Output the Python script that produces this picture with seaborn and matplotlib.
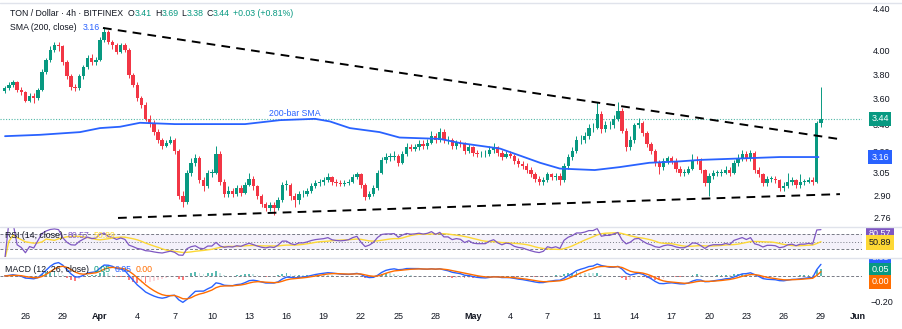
import numpy as np
import pandas as pd
import matplotlib
matplotlib.use("Agg")
import matplotlib.pyplot as plt
import matplotlib.ticker as mticker
import matplotlib.transforms as mtransforms
from matplotlib.lines import Line2D
import seaborn as sns

sns.set_theme(style="white")
plt.rcParams['font.family'] = ['Liberation Sans', 'DejaVu Sans']

# ---------------- data (8h bars) ----------------
first_open = 3.66
start_day = -7.667          # days relative to Apr 1 00:00
bar_hours = 8

closes = [
    3.68, 3.71, 3.73, 3.67, 3.65, 3.58, 3.62, 3.60, 3.67, 3.82, 3.92, 4.01,
    4.05, 4.04, 3.90, 3.78, 3.69, 3.68, 3.78, 3.86, 3.94, 3.90, 3.92, 4.10,
    4.17, 4.08, 4.05, 3.99, 4.05, 4.01, 3.79, 3.71, 3.60, 3.55, 3.44, 3.41,
    3.34, 3.28, 3.24, 3.26, 3.28, 3.20, 2.90, 2.86, 3.05, 3.12, 3.15, 3.00,
    2.96, 3.05, 3.05, 3.18, 2.99, 2.91, 2.93, 2.91, 2.95, 2.92, 2.97, 3.01,
    2.96, 2.90, 2.85, 2.82, 2.84, 2.82, 2.87, 2.97, 2.97, 2.90, 2.87, 2.91,
    2.91, 2.93, 2.96, 2.98, 2.99, 3.00, 3.02, 2.99, 2.98, 2.975, 2.98, 2.99,
    3.02, 3.04, 2.97, 2.89, 2.91, 2.95, 3.05, 3.14, 3.16, 3.16, 3.17, 3.12,
    3.18, 3.23, 3.22, 3.23, 3.25, 3.24, 3.26, 3.31, 3.28, 3.34, 3.28, 3.28,
    3.24, 3.26, 3.25, 3.20, 3.23, 3.19, 3.18, 3.18, 3.18, 3.21, 3.23, 3.19,
    3.16, 3.18, 3.17, 3.13, 3.11, 3.10, 3.07, 3.04, 3.01, 2.99, 3.00, 3.04,
    3.02, 3.03, 3.00, 3.10, 3.16, 3.20, 3.28, 3.28, 3.31, 3.37, 3.37, 3.48,
    3.36, 3.39, 3.39, 3.44, 3.50, 3.35, 3.23, 3.28, 3.39, 3.41, 3.33, 3.25,
    3.20, 3.12, 3.09, 3.13, 3.15, 3.13, 3.08, 3.05, 3.05, 3.08, 3.14, 3.13,
    3.07, 2.98, 3.03, 3.05, 3.05, 3.05, 3.07, 3.05, 3.12, 3.15, 3.18, 3.15,
    3.19, 3.07, 3.04, 2.98, 3.01, 3.01, 3.00, 2.95, 2.96, 2.99, 3.00, 2.97,
    2.99, 2.99, 3.00, 2.99, 3.41, 3.44]

highs = [
    3.70, 3.73, 3.75, 3.74, 3.69, 3.66, 3.64, 3.64, 3.68, 3.84, 3.94, 4.04,
    4.08, 4.08, 4.05, 3.92, 3.80, 3.72, 3.80, 3.88, 3.96, 3.97, 3.95, 4.13,
    4.22, 4.19, 4.10, 4.07, 4.07, 4.07, 4.03, 3.81, 3.73, 3.62, 3.57, 3.47,
    3.43, 3.36, 3.30, 3.28, 3.31, 3.30, 3.22, 2.93, 3.07, 3.15, 3.18, 3.17,
    3.02, 3.07, 3.08, 3.24, 3.20, 3.01, 2.96, 2.95, 2.97, 2.97, 2.99, 3.05,
    3.03, 2.97, 2.91, 2.86, 2.86, 2.86, 2.89, 2.99, 3.00, 2.98, 2.92, 2.93,
    2.94, 2.95, 2.98, 3.00, 3.01, 3.02, 3.05, 3.03, 3.01, 3.00, 3.00, 3.01,
    3.04, 3.06, 3.05, 2.98, 2.93, 2.97, 3.07, 3.16, 3.19, 3.19, 3.20, 3.18,
    3.20, 3.26, 3.25, 3.25, 3.28, 3.28, 3.29, 3.35, 3.33, 3.37, 3.36, 3.31,
    3.30, 3.28, 3.28, 3.27, 3.25, 3.24, 3.21, 3.20, 3.21, 3.24, 3.26, 3.24,
    3.21, 3.20, 3.20, 3.18, 3.15, 3.13, 3.12, 3.09, 3.06, 3.03, 3.02, 3.06,
    3.05, 3.05, 3.05, 3.12, 3.18, 3.23, 3.31, 3.32, 3.34, 3.40, 3.41, 3.57,
    3.50, 3.42, 3.42, 3.47, 3.57, 3.52, 3.37, 3.31, 3.41, 3.45, 3.42, 3.35,
    3.27, 3.22, 3.14, 3.15, 3.17, 3.17, 3.15, 3.10, 3.08, 3.10, 3.18, 3.17,
    3.15, 3.08, 3.05, 3.07, 3.07, 3.08, 3.10, 3.09, 3.14, 3.18, 3.21, 3.20,
    3.21, 3.20, 3.09, 3.05, 3.03, 3.03, 3.03, 3.01, 2.99, 3.05, 3.02, 3.01,
    3.04, 3.01, 3.02, 3.02, 3.42, 3.69]

lows = [
    3.64, 3.67, 3.69, 3.65, 3.63, 3.57, 3.57, 3.56, 3.59, 3.66, 3.80, 3.90,
    3.99, 4.00, 3.88, 3.76, 3.67, 3.66, 3.67, 3.76, 3.84, 3.88, 3.88, 3.91,
    4.08, 4.06, 4.02, 3.97, 3.98, 3.99, 3.77, 3.69, 3.58, 3.52, 3.42, 3.38,
    3.32, 3.26, 3.22, 3.23, 3.25, 3.18, 2.88, 2.83, 2.85, 3.03, 3.10, 2.98,
    2.93, 2.95, 3.02, 3.04, 2.97, 2.89, 2.89, 2.89, 2.90, 2.90, 2.91, 2.96,
    2.94, 2.88, 2.83, 2.80, 2.80, 2.78, 2.81, 2.86, 2.94, 2.87, 2.83, 2.85,
    2.89, 2.90, 2.92, 2.95, 2.96, 2.97, 2.99, 2.97, 2.96, 2.96, 2.96, 2.97,
    2.98, 3.01, 2.95, 2.87, 2.88, 2.90, 2.94, 3.04, 3.12, 3.13, 3.14, 3.10,
    3.11, 3.17, 3.20, 3.20, 3.21, 3.22, 3.22, 3.25, 3.26, 3.27, 3.26, 3.25,
    3.22, 3.22, 3.23, 3.18, 3.19, 3.17, 3.16, 3.16, 3.16, 3.17, 3.19, 3.17,
    3.14, 3.15, 3.15, 3.11, 3.09, 3.08, 3.05, 3.02, 2.99, 2.97, 2.97, 2.99,
    3.00, 3.00, 2.97, 2.99, 3.08, 3.14, 3.19, 3.25, 3.26, 3.29, 3.34, 3.36,
    3.33, 3.34, 3.36, 3.37, 3.42, 3.33, 3.20, 3.21, 3.26, 3.37, 3.31, 3.23,
    3.18, 3.10, 3.04, 3.07, 3.11, 3.11, 3.06, 3.03, 3.03, 3.04, 3.07, 3.11,
    3.05, 2.96, 2.90, 3.01, 3.03, 3.03, 3.04, 3.03, 3.04, 3.10, 3.13, 3.13,
    3.13, 3.05, 3.02, 2.96, 2.96, 2.99, 2.98, 2.93, 2.93, 2.95, 2.97, 2.95,
    2.95, 2.97, 2.98, 2.97, 2.98, 3.38]

# 200-bar SMA (day offset from Apr 1, value)
sma_day = [-7.64, -4.83, -1.61, 0.0, 1.61, 3.22, 6.03, 8.85, 11.67, 14.48, 17.3,
           18.5, 20.1, 22.5, 24.1, 27.35, 28.96, 30.57, 32.18, 33.79, 35.4, 37.0,
           39.8, 41.8, 44.2, 46.7, 48.3, 51.5, 54.7, 57.8]
sma_val = [3.31, 3.32, 3.34, 3.37, 3.38, 3.41, 3.40, 3.40, 3.40, 3.43, 3.44,
           3.42, 3.37, 3.34, 3.30, 3.29, 3.26, 3.24, 3.22, 3.17, 3.12, 3.08,
           3.07, 3.09, 3.12, 3.13, 3.14, 3.15, 3.16, 3.16]

# trend lines (day offset, price)
upper_trend_day = [0.24, 59.37]
upper_trend_price = [4.21, 3.29]
lower_trend_day = [1.45, 59.53]
lower_trend_price = [2.76, 2.91]

last_close = 3.44
last_sma = 3.16

price_ticks = [4.40, 4.00, 3.80, 3.60, 3.40, 3.20, 3.05, 2.90, 2.76]
date_tick_days = [-6, -3, 0, 3, 6, 9, 12, 15, 18, 21, 24, 27, 30, 33, 36, 40,
                  43, 46, 49, 52, 55, 58, 61]
date_tick_labels = ["26", "29", "Apr", "4", "7", "10", "13", "16", "19", "22",
                    "25", "28", "May", "4", "7", "11", "14", "17", "20", "23",
                    "26", "29", "Jun"]

# ---------------- derived ----------------
n = len(closes)
assert len(highs) == n and len(lows) == n
t = start_day + np.arange(n) * bar_hours / 24.0
c = np.array(closes)
o = np.concatenate([[first_open], c[:-1]])
h = np.maximum(np.array(highs), np.maximum(o, c))
l = np.minimum(np.array(lows), np.minimum(o, c))
up = c >= o

s = pd.Series(c)
d = s.diff().fillna(0)
rs_n = 10
ru = d.clip(lower=0).ewm(alpha=1 / rs_n, adjust=False).mean()
rd = (-d.clip(upper=0)).ewm(alpha=1 / rs_n, adjust=False).mean()
rsi = 100 - 100 / (1 + ru / rd.replace(0, 1e-9))
rsi_ma = rsi.rolling(10, min_periods=1).mean()

macd = s.ewm(span=6, adjust=False).mean() - s.ewm(span=13, adjust=False).mean()
signal = macd.ewm(span=5, adjust=False).mean()
hist = (macd - signal).values

# ---------------- figure ----------------
W, H = 903, 329
fig = plt.figure(figsize=(W / 100, H / 100), dpi=100)
fig.patch.set_facecolor('white')


def fr(x0, y0, x1, y1):
    return [x0 / W, 1 - y1 / H, (x1 - x0) / W, (y1 - y0) / H]


def px2day(x):
    return (x - 100) / 12.43


ax = fig.add_axes(fr(0, 3, 862, 226))
ax_rsi = fig.add_axes(fr(0, 227, 862, 257), sharex=ax)
ax_macd = fig.add_axes(fr(0, 258, 862, 306), sharex=ax)

UP, DN = '#089981', '#f23645'
DARK = '#131722'
TICK = '#131722'

# candles
colors = np.where(up, UP, DN)
ax.vlines(t, l, h, colors=colors, linewidth=0.7, zorder=3)
body_lo = np.minimum(o, c)
body_h = np.maximum(np.abs(c - o), 0.004)
ax.bar(t, body_h, bottom=body_lo, width=0.27, color=colors, linewidth=0, zorder=4)

sns.lineplot(x=sma_day, y=sma_val, ax=ax, color='#2962ff', linewidth=1.3, sort=False, zorder=5)
ax.plot(upper_trend_day, upper_trend_price, color='black', linewidth=1.4,
        linestyle=(0, (4.5, 3.2)), zorder=6)
ax.plot(lower_trend_day, lower_trend_price, color='black', linewidth=1.4,
        linestyle=(0, (4.5, 3.2)), zorder=6)
ax.axhline(last_close, color=UP, linestyle=(0, (1, 1.5)), linewidth=0.8, alpha=0.7, zorder=2)
ax.text(px2day(295), 3.478, "200-bar SMA", color='#2962ff', fontsize=6.3,
        ha='center', va='center', zorder=7)

ax.set_yscale('log')
ax.set_ylim(2.711, 4.45)
ax.set_xlim(px2day(0), px2day(862))
ax.yaxis.tick_right()
ax.yaxis.set_major_locator(mticker.FixedLocator(price_ticks))
ax.yaxis.set_major_formatter(mticker.FixedFormatter([f"{v:.2f}" for v in price_ticks]))
ax.yaxis.set_minor_locator(mticker.NullLocator())
ax.yaxis.set_minor_formatter(mticker.NullFormatter())
ax.tick_params(axis='y', which='both', length=0, pad=8, labelsize=6.5, labelcolor=TICK)
ax.tick_params(axis='x', length=0, labelbottom=False)
ax.set_xlabel('')
ax.set_ylabel('')

# RSI
ax_rsi.axhspan(30, 70, color='#7e57c2', alpha=0.08, lw=0)
for lv, ls in ((70, (0, (3, 2))), (50, (0, (1, 2))), (30, (0, (3, 2)))):
    ax_rsi.axhline(lv, color='#787b86', linewidth=0.7, linestyle=ls)
sns.lineplot(x=t, y=rsi_ma.values, ax=ax_rsi, color='#fdd835', linewidth=1.0, sort=False)
sns.lineplot(x=t, y=rsi.values, ax=ax_rsi, color='#7e57c2', linewidth=0.9, sort=False)
ax_rsi.set_ylim(8.7, 88.7)
ax_rsi.set_yticks([])
ax_rsi.tick_params(axis='x', length=0, labelbottom=False)
ax_rsi.set_xlabel('')
ax_rsi.set_ylabel('')

# MACD
prev = np.concatenate([[0], hist[:-1]])
hcol = np.where(hist >= 0, np.where(hist >= prev, '#26a69a', '#b2dfdb'),
                np.where(hist <= prev, '#ff5252', '#ffcdd2'))
ax_macd.bar(t, hist, width=0.14, color=hcol, linewidth=0, alpha=0.75)
ax_macd.axhline(0, color='#787b86', linewidth=0.7, linestyle=(0, (3, 2)))
sns.lineplot(x=t, y=macd.values, ax=ax_macd, color='#2962ff', linewidth=1.0, sort=False)
sns.lineplot(x=t, y=signal.values, ax=ax_macd, color='#ff6d00', linewidth=1.0, sort=False)
ax_macd.set_ylim(-0.231, 0.138)
ax_macd.yaxis.tick_right()
ax_macd.set_yticks([-0.2])
ax_macd.set_yticklabels(["\u22120.20"])
ax_macd.tick_params(axis='y', length=0, pad=6, labelsize=6.5, labelcolor=TICK)
ax_macd.set_xticks(date_tick_days)
ax_macd.set_xticklabels(date_tick_labels)
ax_macd.tick_params(axis='x', length=0, pad=4, labelsize=6.5, labelcolor=TICK)
for lab in ax_macd.get_xticklabels():
    if lab.get_text() in ("Apr", "May", "Jun"):
        lab.set_fontweight('bold')
ax_macd.set_xlabel('')
ax_macd.set_ylabel('')

for a in (ax, ax_rsi, ax_macd):
    for sp in a.spines.values():
        sp.set_visible(False)
    a.grid(False)
    a.set_facecolor('none')

# pane separators
for yp in (2.5, 226.5, 257.5):
    fig.add_artist(Line2D([0, 1], [1 - yp / H] * 2, transform=fig.transFigure,
                          color='#e0e3eb', linewidth=1.0))

# legends (coloured pieces)
renderer = fig.canvas.get_renderer()


def pieces(x_px, y_px, parts, size=6.3):
    x = x_px
    for txt, col, gap in parts:
        tt = fig.text(x / W, 1 - y_px / H, txt, color=col, fontsize=size,
                      ha='left', va='center', zorder=10)
        x += tt.get_window_extent(renderer=renderer).width + gap


pieces(10, 14, [("TON / Dollar \u00b7 4h \u00b7 BITFINEX", DARK, 5),
                ("O", DARK, 0), ("3.41", UP, 3), ("H", DARK, 0), ("3.69", UP, 3),
                ("L", DARK, 0), ("3.38", UP, 3), ("C", DARK, 0), ("3.44", UP, 3),
                ("+0.03 (+0.81%)", UP, 0)])
pieces(10, 27, [("SMA (200, close)", DARK, 6), ("3.16", '#2962ff', 0)])
pieces(5, 236, [("RSI (14, close)", DARK, 5), ("80.57", '#7e57c2', 4),
                ("50.89", '#fdd835', 0)])
pieces(5, 270, [("MACD (12, 26, close)", DARK, 5), ("0.05", '#089981', 4),
                ("0.05", '#2962ff', 4), ("0.00", '#ff6d00', 0)])

# right-hand value tags
bt = mtransforms.blended_transform_factory(ax.transAxes, ax.transData)
xc = 880 / 862


def tag(axis, tr, x, y, txt, fc, tc, clip=False):
    axis.text(x, y, txt, transform=tr, ha='center', va='center', fontsize=6.5,
              color=tc, zorder=20, clip_on=clip,
              bbox=dict(boxstyle='square,pad=0.3', fc=fc, ec='none'))


tag(ax, bt, xc, last_close, "3.44", UP, 'white')
tag(ax, bt, xc, last_sma, "3.16", '#2962ff', 'white')

ax_rs = fig.add_axes(fr(862, 227, 903, 257))
ax_rs.set_axis_off()
tag(ax_rs, ax_rs.transAxes, 0.44, (257 - 234) / 30, "80.57", '#7e57c2', 'white', True)
tag(ax_rs, ax_rs.transAxes, 0.44, (257 - 242.5) / 30, "50.89", '#fdd835', DARK, True)

ax_ms = fig.add_axes(fr(862, 258, 903, 306))
ax_ms.set_axis_off()
tag(ax_ms, ax_ms.transAxes, 0.44, (306 - 257) / 48, "0.05", '#2962ff', 'white', True)
tag(ax_ms, ax_ms.transAxes, 0.44, (306 - 270) / 48, "0.05", '#089981', 'white', True)
tag(ax_ms, ax_ms.transAxes, 0.44, (306 - 282) / 48, "0.00", '#ff6d00', 'white', True)

fig.savefig("out.png", dpi=100, facecolor='white')
